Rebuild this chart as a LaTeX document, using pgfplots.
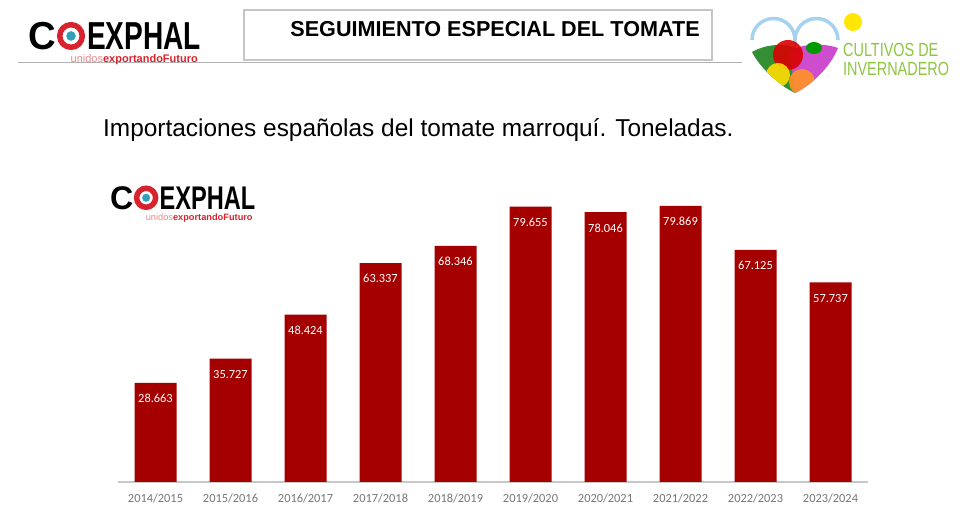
\documentclass[border=0pt]{standalone}
\usepackage{fontspec}
\setmainfont{Liberation Sans}
\newfontfamily\calibri{Carlito}
\usepackage{pgfplots}
\pgfplotsset{compat=1.18}
\definecolor{barred}{RGB}{165,0,0}
\definecolor{ticgray}{RGB}{118,118,118}
\definecolor{axisgray}{RGB}{200,200,200}
\definecolor{logored}{RGB}{215,35,45}
\definecolor{logoteal}{RGB}{50,160,185}
\definecolor{culgreen}{RGB}{140,198,62}
\definecolor{skyblue}{RGB}{165,210,238}
\newcommand{\coexphal}{%
  \node[anchor=base west, inner sep=0, font=\fontsize{39}{39}\selectfont\bfseries, xscale=0.98] at (0,-28) {C};
  \draw[logored, line width=5.5pt] (43,-14) circle (11.3);
  \fill[logoteal] (43,-14) circle (4.8);
  \node[anchor=base west, inner sep=0, font=\fontsize{39}{39}\selectfont\bfseries, xscale=0.72] at (59,-28) {EXPHAL};
  \node[anchor=base east, inner sep=0, font=\fontsize{11}{11}\selectfont] at (170,-41) {\textcolor{logored!55}{unidos}\textcolor{logored}{\bfseries exportando}\textcolor{logored}{\bfseries Futuro}};
}
\begin{document}
\begin{tikzpicture}[x=1pt,y=1pt]
\path[use as bounding box] (0,0) rectangle (980,518);
% header
\draw[gray!60, line width=1pt] (18,455) -- (742,455);
\draw[gray!45, line width=1.2pt] (244,458) rectangle (712,508);
\node[font=\fontsize{21.6}{23}\selectfont\bfseries] at (495,489) {SEGUIMIENTO ESPECIAL DEL TOMATE};
\begin{scope}[shift={(28,496)}]
\coexphal
\end{scope}
\begin{scope}[shift={(110,332)}, scale=0.84, transform shape]
\coexphal
\end{scope}
% right logo
\draw[skyblue, line width=3.5pt] (752,478) arc[start angle=180, end angle=0, radius=21.5] arc[start angle=180, end angle=0, radius=21.5];
\fill[yellow!90!orange] (853,496) circle (9);
\fill[green!45!black!80!white] (752,466) .. controls (770,476) and (790,474) .. (800,468) -- (795,425) .. controls (780,432) and (760,450) .. (752,466) -- cycle;
\fill[violet!55!magenta!70] (838,470) .. controls (820,476) and (800,474) .. (790,466) -- (795,425) .. controls (810,432) and (830,450) .. (838,470) -- cycle;
\begin{scope}
\clip (752,466) .. controls (760,500) and (830,500) .. (838,470) .. controls (830,450) and (810,432) .. (795,425) .. controls (780,432) and (760,450) .. (752,466) -- cycle;
\fill[red!85!black, opacity=0.9] (788,463) circle (15);
\fill[green!60!black] (814,470) ellipse (8 and 6);
\fill[yellow!80!orange, opacity=0.9] (778,443) circle (12);
\fill[orange!85, opacity=0.9] (802,436) circle (13);
\end{scope}
\node[anchor=base west, inner sep=0, text=culgreen, font=\fontsize{19}{19}\selectfont, xscale=0.76] at (843,461) {CULTIVOS DE};
\node[anchor=base west, inner sep=0, text=culgreen, font=\fontsize{19}{19}\selectfont, xscale=0.76] at (843,442) {INVERNADERO};
% title
\node[anchor=base west, inner sep=0, font=\fontsize{24.4}{26}\selectfont] at (103,381) {Importaciones españolas del tomate marroquí. Toneladas.};
\begin{axis}[
  at={(118pt,36pt)}, anchor=south west,
  scale only axis, width=750pt, height=293.8pt,
  xmin=-0.5, xmax=9.5, ymin=0, ymax=85000,
  axis y line=none, axis x line*=bottom,
  x axis line style={draw=axisgray, line width=1.5pt, -},
  xtick=data,
  xticklabels={2014/2015,2015/2016,2016/2017,2017/2018,2018/2019,2019/2020,2020/2021,2021/2022,2022/2023,2023/2024},
  xtick style={draw=none},
  xticklabel style={font=\calibri\fontsize{12.4}{14}\selectfont, text=ticgray, yshift=-4pt},
  ybar, bar width=42pt,
  /pgf/number format/1000 sep={.},
  /pgf/number format/assume math mode=true,
  nodes near coords,
  every node near coord/.append style={font=\calibri\fontsize{12.4}{14}\selectfont, text=white, anchor=north, yshift=-8pt},
  clip=false,
]
\addplot[fill=barred, draw=none] coordinates {
(0,28663) (1,35727) (2,48424) (3,63337) (4,68346) (5,79655) (6,78046) (7,79869) (8,67125) (9,57737)};
\end{axis}
\end{tikzpicture}
\end{document}
